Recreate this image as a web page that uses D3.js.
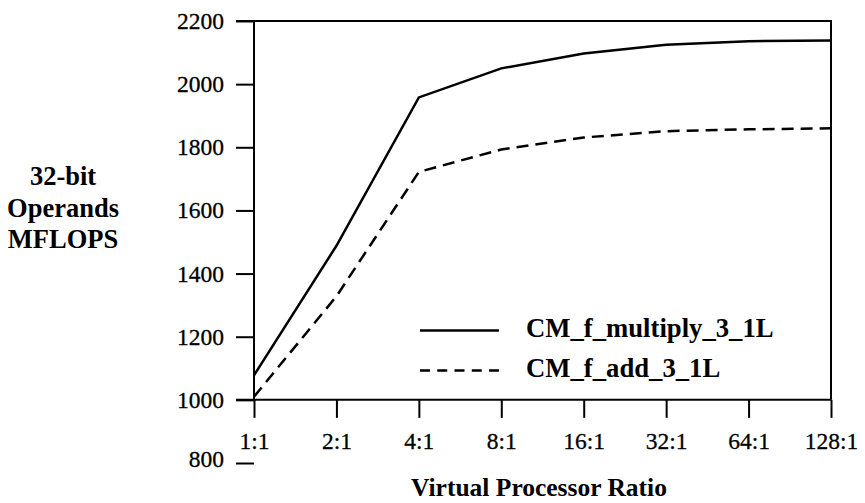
<!DOCTYPE html>
<html>
<head>
<meta charset="utf-8">
<script src="https://cdn.jsdelivr.net/npm/d3@7"></script>
<style>
  body { margin: 0; background: #fff; }
  svg { display: block; }
</style>
</head>
<body>
<div id="chart"></div>
<script>
// Data
const ratios = ['1:1', '2:1', '4:1', '8:1', '16:1', '32:1', '64:1', '128:1'];
const multiplyValues = [1078, 1488, 1958, 2050, 2097, 2125, 2136, 2138];
const addValues = [1010, 1328, 1722, 1793, 1831, 1851, 1857, 1860];
const yTicks = [800, 1000, 1200, 1400, 1600, 1800, 2000, 2200];
const seriesNames = ['CM_f_multiply_3_1L', 'CM_f_add_3_1L'];
const yTitle = ['32-bit', 'Operands', 'MFLOPS'];

const width = 865;
const height = 503;
const font = '"Liberation Serif", "Times New Roman", serif';

const svg = d3.select('#chart')
  .append('svg')
  .attr('width', width)
  .attr('height', height)
  .style('font-family', font);

const x = d3.scalePoint()
  .domain(ratios)
  .range([254, 831]);

const y = d3.scaleLinear()
  .domain([800, 2200])
  .range([463, 21]);

// Y axis (line only spans 1000..2200, the 800 tick sits below the x labels)
const yAxis = svg.append('g')
  .attr('transform', `translate(${x(ratios[0])},0)`)
  .call(d3.axisLeft(y).tickValues(yTicks).tickFormat(d3.format('d'))
    .tickSize(18).tickPadding(12).tickSizeOuter(0));
yAxis.select('.domain').remove();
yAxis.selectAll('.tick line').attr('stroke', '#000').attr('stroke-width', 2);
yAxis.selectAll('.tick text')
  .attr('fill', '#000')
  .attr('stroke', '#000')
  .attr('stroke-width', 0.3)
  .style('font-size', '23.5px')
  .style('font-family', font);
yAxis.selectAll('.tick').filter(d => d === 800).select('text').attr('dy', '0.15em');

svg.append('line')
  .attr('x1', x(ratios[0])).attr('x2', x(ratios[0]))
  .attr('y1', y(1000)).attr('y2', y(2200))
  .attr('stroke', '#000').attr('stroke-width', 2);

// X axis
const xAxis = svg.append('g')
  .attr('transform', `translate(0,${y(1000)})`)
  .call(d3.axisBottom(x).tickSize(18).tickPadding(14).tickSizeOuter(0));
xAxis.select('.domain').attr('stroke', '#000').attr('stroke-width', 2)
  .attr('d', `M${x(ratios[0]) - 18},0H${x(ratios[ratios.length - 1])}`);
xAxis.selectAll('.tick line').attr('stroke', '#000').attr('stroke-width', 2);
xAxis.selectAll('.tick text')
  .attr('fill', '#000')
  .attr('stroke', '#000')
  .attr('stroke-width', 0.3)
  .style('font-size', '23.5px')
  .style('font-family', font);

// frame top and right
svg.append('path')
  .attr('d', `M${x(ratios[0]) - 18},${y(2200)}H${x(ratios[ratios.length - 1])}V${y(1000)}`)
  .attr('fill', 'none')
  .attr('stroke', '#000')
  .attr('stroke-width', 2);

// Lines
const line = d3.line()
  .x((d, i) => x(ratios[i]))
  .y(d => y(d));

svg.append('path')
  .datum(multiplyValues)
  .attr('d', line)
  .attr('fill', 'none')
  .attr('stroke', '#000')
  .attr('stroke-width', 2.5);

svg.append('path')
  .datum(addValues)
  .attr('d', line)
  .attr('fill', 'none')
  .attr('stroke', '#000')
  .attr('stroke-width', 2.5)
  .attr('stroke-dasharray', '12,7');

// Legend
const legend = svg.append('g');
seriesNames.forEach((name, i) => {
  const row = legend.append('g')
    .attr('transform', `translate(420, ${330.5 + i * 40})`);
  row.append('line')
    .attr('x1', 0).attr('x2', 79)
    .attr('stroke', '#000')
    .attr('stroke-width', 2.5)
    .attr('stroke-dasharray', i === 1 ? '10,7.25' : null);
  row.append('text')
    .attr('x', 106)
    .attr('y', 6.5)
    .style('font-size', '26.7px')
    .style('font-weight', 'bold')
    .text(name);
});

// Axis titles
svg.append('text')
  .attr('x', 539)
  .attr('y', 496)
  .attr('text-anchor', 'middle')
  .style('font-size', '25.5px')
  .style('font-weight', 'bold')
  .text('Virtual Processor Ratio');

svg.append('text')
  .attr('text-anchor', 'middle')
  .style('font-size', '26.5px')
  .style('font-weight', 'bold')
  .selectAll('tspan')
  .data(yTitle)
  .join('tspan')
  .attr('x', 63)
  .attr('y', (d, i) => 185 + i * 31.5)
  .text(d => d);
</script>
</body>
</html>
